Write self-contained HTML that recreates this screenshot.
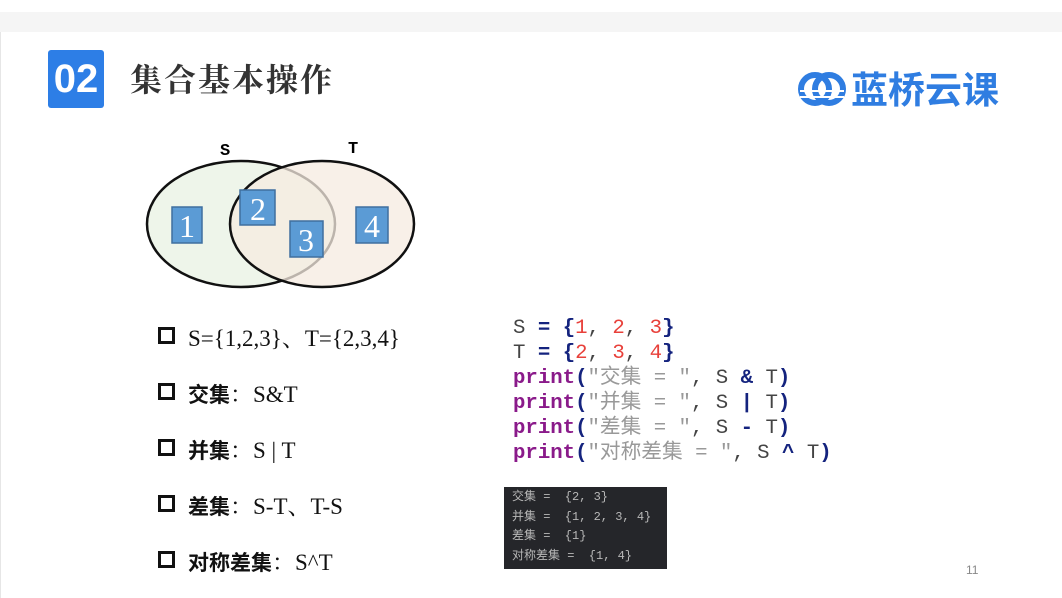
<!DOCTYPE html>
<html><head><meta charset="utf-8"><style>
*{margin:0;padding:0}
body{width:1062px;height:598px;position:relative;background:#fff;overflow:hidden;font-family:"Liberation Sans","Noto Sans CJK SC",sans-serif}
.a{position:absolute;white-space:nowrap}
.code{font-family:"Liberation Mono","Noto Sans CJK SC",monospace;font-size:20.7px;line-height:25px;color:#444}
.kw{color:#8a1a8a;font-weight:bold}.op{color:#14237e;font-weight:bold}.n{color:#e8403a}.s{color:#999}
.bl{font-family:"Liberation Serif","Noto Serif CJK SC",serif;font-size:23px;color:#111}
.bl b{font-family:"Noto Sans CJK SC",sans-serif;font-weight:bold;font-size:21px}
.sq{display:inline-block;width:11px;height:11px;border:3px solid #111;margin-right:13px;vertical-align:2px}
.term{background:#25262a;color:#b8b8b8;font-family:"Liberation Mono","Noto Sans CJK SC",monospace;font-size:12px;line-height:19.5px;padding:1px 0 0 8px;white-space:pre}
</style></head><body>
<div class="a" style="left:0;top:12px;width:1062px;height:20px;background:#f5f5f5"></div>
<div class="a" style="left:0;top:32px;width:1px;height:566px;background:#e6e6e6"></div>
<div class="a" style="left:48px;top:50px;width:56px;height:58px;background:#2d7ee6;border-radius:3px;color:#fff;font:bold 40px/58px 'Liberation Sans',sans-serif;text-align:center">02</div>
<div class="a" style="left:130px;top:58px;font:bold 32px/40px 'Noto Serif CJK SC',serif;color:#333;letter-spacing:2px">集合基本操作</div>
<svg class="a" style="left:798px;top:70px" width="50" height="38"><circle cx="17" cy="19" r="14" fill="none" stroke="#2f7de1" stroke-width="6"/><circle cx="31" cy="19" r="14" fill="none" stroke="#2f7de1" stroke-width="6"/><rect x="2" y="20" width="44" height="2" fill="#fff"/><rect x="2" y="26" width="44" height="2" fill="#fff"/></svg>
<div class="a" style="left:851px;top:65px;font:bold 37px/44px 'Noto Sans CJK SC',sans-serif;color:#2f7de1">蓝桥云课</div>
<svg class="a" style="left:0;top:130px" width="460" height="170">
<text x="220" y="25" font-family="Liberation Mono" font-weight="bold" font-size="17">S</text>
<text x="348" y="23" font-family="Liberation Mono" font-weight="bold" font-size="17">T</text>
<ellipse cx="241" cy="94" rx="94" ry="63" fill="#eef5ea" stroke="#111" stroke-width="2.5"/>
<ellipse cx="322" cy="94" rx="92" ry="63" fill="#f6ebe0" fill-opacity="0.75" stroke="none"/>
<ellipse cx="322" cy="94" rx="92" ry="63" fill="none" stroke="#111" stroke-width="2.5"/>
<g fill="#5b9bd5" stroke="#3f6f9f" stroke-width="1.5"><rect x="172" y="77" width="30" height="36"/><rect x="240" y="60" width="35" height="35"/><rect x="290" y="91" width="33" height="36"/><rect x="356" y="77" width="32" height="36"/></g>
<g fill="#fff" font-family="Liberation Serif" font-size="32" text-anchor="middle"><text x="187" y="107">1</text><text x="258" y="90">2</text><text x="306" y="121">3</text><text x="372" y="107">4</text></g>
</svg>
<div class="a bl" style="left:158px;top:320px"><span class="sq"></span>S={1,2,3}、T={2,3,4}</div>
<div class="a bl" style="left:158px;top:376px"><span class="sq"></span><b>交集</b>：S&amp;T</div>
<div class="a bl" style="left:158px;top:432px"><span class="sq"></span><b>并集</b>：S | T</div>
<div class="a bl" style="left:158px;top:488px"><span class="sq"></span><b>差集</b>：S-T、T-S</div>
<div class="a bl" style="left:158px;top:544px"><span class="sq"></span><b>对称差集</b>：S^T</div>
<div class="a code" style="left:513px;top:316px">S <span class="op">=</span> <span class="op">{</span><span class="n">1</span>, <span class="n">2</span>, <span class="n">3</span><span class="op">}</span><br>T <span class="op">=</span> <span class="op">{</span><span class="n">2</span>, <span class="n">3</span>, <span class="n">4</span><span class="op">}</span><br><span class="kw">print</span><span class="op">(</span><span class="s">"交集 = "</span>, S <span class="op">&amp;</span> T<span class="op">)</span><br><span class="kw">print</span><span class="op">(</span><span class="s">"并集 = "</span>, S <span class="op">|</span> T<span class="op">)</span><br><span class="kw">print</span><span class="op">(</span><span class="s">"差集 = "</span>, S <span class="op">-</span> T<span class="op">)</span><br><span class="kw">print</span><span class="op">(</span><span class="s">"对称差集 = "</span>, S <span class="op">^</span> T<span class="op">)</span></div>
<div class="a term" style="left:504px;top:487px;width:155px;height:81px">交集 =  {2, 3}
并集 =  {1, 2, 3, 4}
差集 =  {1}
对称差集 =  {1, 4}</div>
<div class="a" style="left:966px;top:563px;font-size:12px;color:#888">11</div>
</body></html>
